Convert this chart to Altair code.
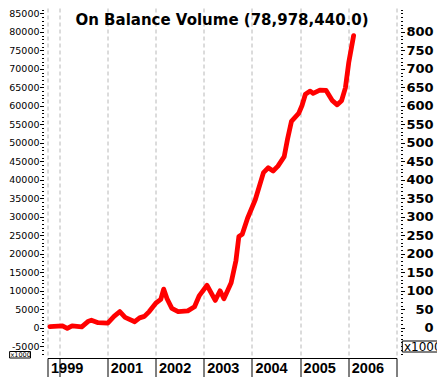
import altair as alt
import pandas as pd

# ---- data ----
years = [1999.81, 2000.07, 2000.17, 2000.27, 2000.47, 2000.61, 2000.67, 2000.81, 2001.01, 2001.14,
         2001.26, 2001.37, 2001.57, 2001.67, 2001.77, 2001.87, 2002.01, 2002.11, 2002.17, 2002.24,
         2002.34, 2002.47, 2002.67, 2002.81, 2002.91, 2003.07, 2003.24, 2003.34, 2003.42, 2003.57,
         2003.67, 2003.73, 2003.80, 2003.91, 2004.07, 2004.24, 2004.34, 2004.44, 2004.54, 2004.67,
         2004.74, 2004.82, 2004.97, 2005.04, 2005.11, 2005.21, 2005.27, 2005.41, 2005.54, 2005.67,
         2005.77, 2005.86, 2005.94, 2006.01, 2006.11]
obv = [311, 467, -207, 467, 207, 1763, 2022, 1348, 1245, 3060,
       4356, 2800, 1608, 2645, 3060, 4356, 6690, 7650, 10424, 7831,
       5238, 4356, 4538, 5653, 8687, 11461, 7390, 9983, 7831, 12135,
       18203, 24686, 25282, 29612, 34617, 41955, 43251, 42396, 43692, 46285,
       51030, 55802, 57954, 60106, 63140, 63996, 63399, 64255, 64177, 61403,
       60288, 61403, 64877, 71774, 78978]

title_text = ["On Balance Volume (78,978,440.0)"]
unit_text = ["x1000"]
x_ticks = [1999.76, 2000, 2001, 2002, 2003, 2004, 2005, 2006, 2007]
left_major = list(range(-5000, 85001, 5000))
right_major = list(range(-5000, 80001, 5000))
minor_ticks = list(range(-7000, 86001, 1000))

df = pd.DataFrame({"year": years, "obv": obv})

W, H = 349, 347
xscale = alt.Scale(domain=[1999.76, 2007.0], nice=False, zero=False)
yscale = alt.Scale(domain=[-7390, 86478], nice=False, zero=False)

base = alt.Chart(df)

x_axis = alt.Axis(
    values=x_ticks, orient="bottom", offset=3,
    grid=True, gridColor="#b8b8b8", gridDash=[4, 3], gridWidth=1,
    domain=True, domainColor="black", domainWidth=1,
    ticks=True, tickColor="black", tickSize=19, tickWidth=1,
    labelExpr="datum.value < 1999.9 ? '1999' : ((datum.value == 2000 || datum.value == 2007) ? '' : toString(datum.value))",
    labelAlign="left", labelBaseline="top", labelOffset=3, labelPadding=-15.5,
    labelFont="Liberation Sans", labelFontWeight="bold", labelFontSize=14.5, labelColor="black",
    labelOverlap=False, labelFlush=False, title=None,
)

line = base.mark_line(color="#ff0000", strokeWidth=4.8, strokeJoin="round", strokeCap="round").encode(
    x=alt.X("year:Q", scale=xscale, axis=x_axis),
    y=alt.Y("obv:Q", scale=yscale, axis=alt.Axis(
        orient="left", values=left_major, offset=4, domain=False, grid=False,
        tickSize=4, tickColor="black", tickWidth=1,
        labelExpr="toString(datum.value)", labelFont="DejaVu Sans", labelFontSize=9.5,
        labelColor="black", labelPadding=0.5, labelOverlap=False, labelFlush=False, title=None)),
)

left_minor = base.mark_line(strokeOpacity=0).encode(
    x=alt.X("year:Q", scale=xscale, axis=None),
    y=alt.Y("obv:Q", scale=yscale, axis=alt.Axis(
        orient="left", values=minor_ticks, offset=4, domain=False, grid=False,
        tickSize=2, tickColor="black", tickWidth=1, labels=False, title=None)),
)

right_major_layer = base.mark_line(strokeOpacity=0).encode(
    x=alt.X("year:Q", scale=xscale, axis=None),
    y=alt.Y("obv:Q", scale=yscale, axis=alt.Axis(
        orient="right", values=right_major, offset=4, domain=False, grid=False,
        tickSize=4, tickColor="black", tickWidth=1,
        labelExpr="toString(datum.value / 100)", labelAlign="right", labelPadding=28.6,
        labelFont="DejaVu Sans", labelFontWeight="bold", labelFontSize=13, labelColor="black",
        labelOverlap=False, labelFlush=False, title=None)),
)

right_minor = base.mark_line(strokeOpacity=0).encode(
    x=alt.X("year:Q", scale=xscale, axis=None),
    y=alt.Y("obv:Q", scale=yscale, axis=alt.Axis(
        orient="right", values=minor_ticks, offset=4, domain=False, grid=False,
        tickSize=2, tickColor="black", tickWidth=1, labels=False, title=None)),
)

tdf = pd.DataFrame({"t": title_text})
title = alt.Chart(tdf).mark_text(
    font="DejaVu Sans", fontWeight="bold", fontSize=15, color="black",
    align="center", baseline="alphabetic",
).encode(text="t:N", x=alt.value(W / 2), y=alt.value(17))

udf = pd.DataFrame({"t": unit_text})
left_box = alt.Chart(udf).mark_rect(fill="white", stroke="black", strokeWidth=1).encode(
    x=alt.value(-37.9), x2=alt.value(-17.0), y=alt.value(343.5), y2=alt.value(350))
left_unit = alt.Chart(udf).mark_text(
    font="DejaVu Sans", fontSize=6.5, color="black", align="left", baseline="middle",
).encode(text="t:N", x=alt.value(-37), y=alt.value(347))

right_box = alt.Chart(udf).mark_rect(fill="white", stroke="black", strokeWidth=1).encode(
    x=alt.value(354.8), x2=alt.value(392), y=alt.value(333), y2=alt.value(344))
right_unit = alt.Chart(udf).mark_text(
    font="DejaVu Sans", fontSize=12, color="black", align="left", baseline="middle",
).encode(text="t:N", x=alt.value(356.5), y=alt.value(339))

chart = alt.layer(
    line, left_minor, right_major_layer, right_minor,
    title, left_box, left_unit, right_box, right_unit,
).resolve_axis(x="independent", y="independent").properties(
    width=W, height=H,
    autosize=alt.AutoSizeParams(type="none"),
    padding={"left": 39.5, "top": 0, "right": 40.5, "bottom": 22},
    background="white",
).configure_view(stroke=None)

chart.save("out.html", embed_options={"renderer": "svg", "actions": False})
